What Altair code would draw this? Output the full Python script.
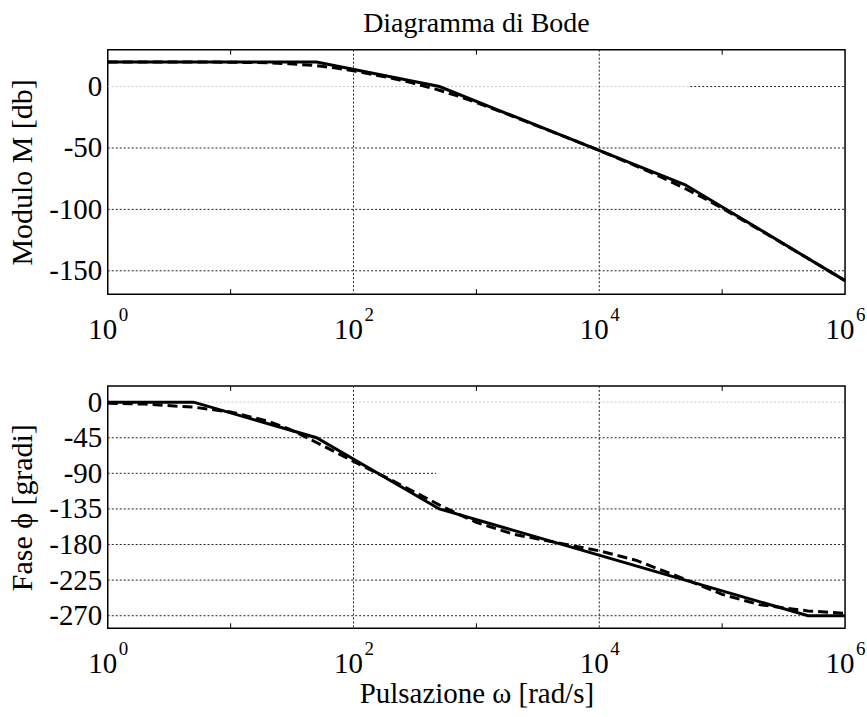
import altair as alt
import pandas as pd

# ---- data ----
# asymptotic (solid) magnitude
w_mag_asym = [1, 50, 500, 5e4, 1e6]
m_asym = [20, 20, 0, -80, -158]
# real (dashed) magnitude
w_mag_real = [1, 5, 10, 20, 30, 50, 70, 100, 200, 300, 500, 700, 1000, 2000,
              5000, 1e4, 2e4, 3e4, 5e4, 7e4, 1e5, 2e5, 5e5, 1e6]
m_real = [20, 20, 19.8, 19.4, 18.6, 17, 15.2, 12.8, 7, 3, -3, -7.6, -13, -24.4,
          -40, -52, -64.7, -72.5, -83, -90.5, -99, -116.4, -140, -158]
# asymptotic (solid) phase
w_ph_asym = [1, 5, 50, 500, 5e5, 1e6]
p_asym = [0, 0, -45, -135, -270, -270]
# real (dashed) phase
w_ph_real = [1, 2, 5, 10, 20, 30, 50, 70, 100, 200, 300, 500, 700, 1000, 2000,
             5000, 1e4, 2e4, 5e4, 1e5, 2e5, 5e5, 1e6]
p_real = [-1.3, -2.5, -6.3, -12.5, -24, -34, -51, -62.5, -75, -98, -112, -130,
          -141, -152, -167, -179, -188, -200, -224, -243, -256, -264, -267]

mag_ticks = [0, -50, -100, -150]
ph_ticks = [0, -45, -90, -135, -180, -225, -270]
decades = [1, 100, 1e4, 1e6]
exponents = ["0", "2", "4", "6"]
grid_x = [100, 1e4]
minor_x = [10, 1e3, 1e5]

# horizontal grid lines (value, from, to, shade)
mag_grid_y = [0, 0, -50, -100, -150]
mag_grid_x1 = [1, 5.5e4, 1, 1, 1]
mag_grid_x2 = [5.5e4, 1e6, 1e6, 1e6, 1e6]
mag_grid_shade = ["light", "dark", "dark", "dark", "dark"]
ph_grid_y = [0, -45, -90, -135, -180, -225, -270]
ph_grid_x1 = [1, 1, 1, 1, 1, 1, 1]
ph_grid_x2 = [1e6, 1e6, 470, 1e6, 1e6, 1e6, 1e6]
ph_grid_shade = ["light", "dark", "dark", "dark", "dark", "dark", "dark"]

W, H1, H2 = 739, 245, 243
FONT = "'Liberation Serif', 'DejaVu Serif', serif"

xscale = alt.Scale(type="log", domain=[1, 1e6], nice=False)


def panel(w_a, v_a, w_r, v_r, gy, gx1, gx2, gs, ydom, yvals, ytitle, H, xtitle=None):
    asym = pd.DataFrame({"w": w_a, "v": v_a})
    real = pd.DataFrame({"w": w_r, "v": v_r})
    grid = pd.DataFrame({"v": gy, "w": gx1, "w2": gx2, "shade": gs})
    vgrid = pd.DataFrame({"w": grid_x})
    minors = pd.DataFrame({"w": minor_x})
    labs = pd.DataFrame({"w": decades, "e": exponents})
    yscale = alt.Scale(domain=ydom, nice=False, zero=False)

    if xtitle:
        xax = alt.Axis(labels=False, ticks=False, domain=False, grid=False, title=xtitle,
                       titleFont=FONT, titleFontSize=29, titleFontWeight="normal",
                       titleColor="black", titlePadding=51)
    else:
        xax = None
    yax = alt.Axis(values=yvals, ticks=False, domain=False, grid=False,
                   labelExpr="toString(datum.value)",
                   labelFont=FONT, labelFontSize=29, labelColor="black",
                   labelPadding=6, title=ytitle, titleFont=FONT,
                   titleFontSize=30, titleFontWeight="normal",
                   titleColor="black", titlePadding=11)
    X = alt.X("w:Q", scale=xscale, axis=xax)
    Y = alt.Y("v:Q", scale=yscale, axis=yax)

    hg = alt.Chart(grid).mark_rule(strokeWidth=1, strokeDash=[2, 2]).encode(
        x=X, x2="w2:Q", y=Y,
        color=alt.Color("shade:N", scale=alt.Scale(domain=["light", "dark"], range=["#c8c8c8", "#222222"]), legend=None),
    )
    vg = alt.Chart(vgrid).mark_rule(strokeWidth=1, strokeDash=[2, 2], color="#222222").encode(x=X)
    mt_top = alt.Chart(minors).mark_rule(strokeWidth=1, color="black").encode(
        x=X, y=alt.value(0), y2=alt.value(5)
    )
    mt_bot = alt.Chart(minors).mark_rule(strokeWidth=1, color="black").encode(
        x=X, y=alt.value(H - 5), y2=alt.value(H)
    )
    solid = alt.Chart(asym).mark_line(color="black", strokeWidth=3).encode(x=X, y=Y)
    dashed = alt.Chart(real).mark_line(color="black", strokeWidth=3, strokeDash=[10, 5]).encode(x=X, y=Y)
    base10 = alt.Chart(labs).mark_text(font=FONT, fontSize=29, align="center", baseline="alphabetic", dx=-5, color="black").encode(
        x=X, y=alt.value(H + 45), text=alt.value("10")
    )
    expo = alt.Chart(labs).mark_text(font=FONT, fontSize=19, align="left", baseline="alphabetic", dx=11, color="black").encode(
        x=X, y=alt.value(H + 27), text="e:N"
    )
    return alt.layer(hg, vg, mt_top, mt_bot, solid, dashed, base10, expo).properties(width=W, height=H)


top = panel(w_mag_asym, m_asym, w_mag_real, m_real, mag_grid_y, mag_grid_x1, mag_grid_x2,
            mag_grid_shade, [-169, 30], mag_ticks, "Modulo M [db]", H1).properties(
    title=alt.TitleParams("Diagramma di Bode", font=FONT, fontSize=28, fontWeight="normal",
                          color="black", anchor="middle", offset=11)
)
bottom = panel(w_ph_asym, p_asym, w_ph_real, p_real, ph_grid_y, ph_grid_x1, ph_grid_x2,
               ph_grid_shade, [-286, 20.5], ph_ticks, "Fase \u03d5 [gradi]", H2,
               xtitle="Pulsazione \u03c9 [rad/s]")

chart = alt.vconcat(top, bottom, spacing=92, bounds="flush").properties(
    padding={"left": 7, "top": 8, "right": 0, "bottom": 0}
).configure(background="white").configure_view(stroke="black", strokeWidth=1.5)

chart.save("out.html", embed_options={"renderer": "svg", "actions": False})
